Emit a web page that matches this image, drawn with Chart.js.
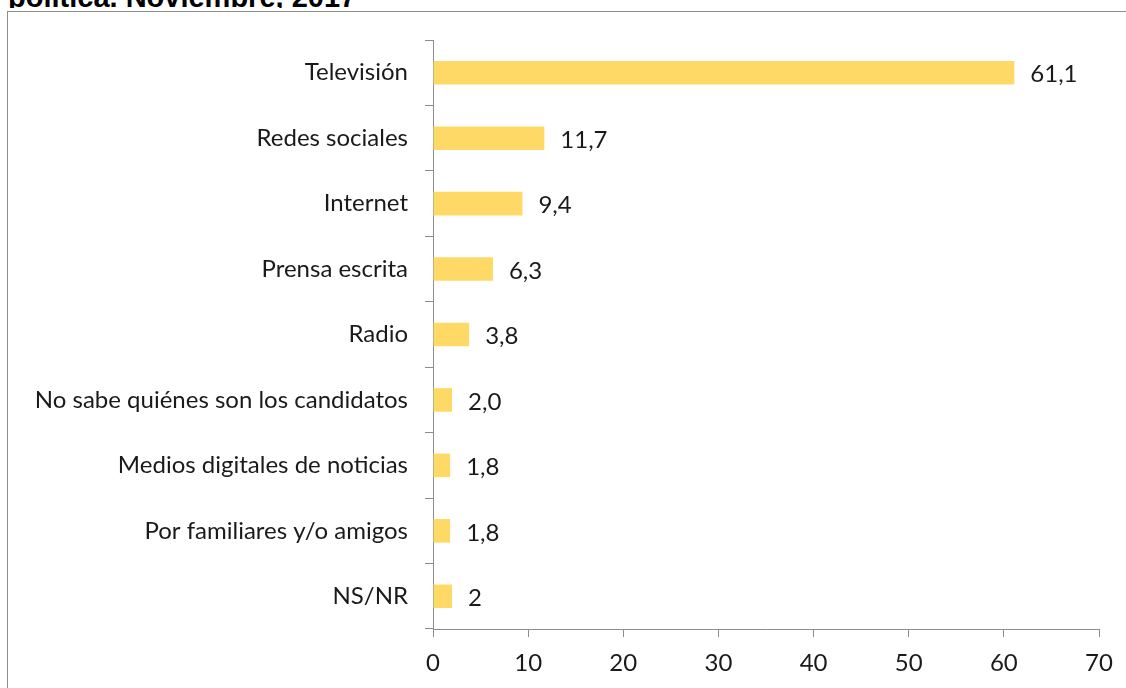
<!DOCTYPE html>
<html>
<head>
<meta charset="utf-8">
<script src="https://cdn.jsdelivr.net/npm/chart.js@4"></script>
<style>
    body { margin: 0; background: #fff; width: 1126px; height: 688px; overflow: hidden; position: relative; }
    #titleClip { position: absolute; left: 0; top: 0; width: 1126px; height: 8px; overflow: hidden; }
    #title { position: absolute; left: 8px; top: -17px; font: bold 29px/1 "Liberation Sans", Arial, sans-serif; color: #000; white-space: nowrap; }
    #frame { position: absolute; left: 7px; top: 11px; width: 1200px; height: 700px; border: 1px solid #8c8c8c; background: #fff; }
    #wrap { position: absolute; left: 0; top: 0; width: 1126px; height: 688px; }
</style>
</head>
<body>
<div id="titleClip"><div id="title">política. Noviembre, 2017</div></div>
<div id="frame"></div>
<div id="wrap"><canvas id="chart" width="1126" height="688"></canvas></div>
<script>
// ===================== DATA ===================== //
const categories = [
    "Televisión",
    "Redes sociales",
    "Internet",
    "Prensa escrita",
    "Radio",
    "No sabe quiénes son los candidatos",
    "Medios digitales de noticias",
    "Por familiares y/o amigos",
    "NS/NR"
];
const values = [61.1, 11.7, 9.4, 6.3, 3.8, 2.0, 1.8, 1.8, 2];
const valueLabels = ["61,1", "11,7", "9,4", "6,3", "3,8", "2,0", "1,8", "1,8", "2"];
const xTicks = [0, 10, 20, 30, 40, 50, 60, 70];

const fontFamily = 'Lato, "Open Sans", sans-serif';
const fontSize = 24;
const axisColor = "#8c8c8c";

// draw value labels next to each bar
const valueLabelPlugin = {
    id: "valueLabels",
    afterDatasetsDraw(chart) {
        const ctx = chart.ctx;
        const meta = chart.getDatasetMeta(0);
        ctx.save();
        ctx.font = fontSize + "px " + fontFamily;
        ctx.fillStyle = "#1a1a1a";
        ctx.textAlign = "left";
        ctx.textBaseline = "middle";
        meta.data.forEach((bar, i) => {
            ctx.fillText(valueLabels[i], bar.x + 16, bar.y + 2);
        });
        ctx.restore();
    }
};

new Chart(document.getElementById("chart"), {
    type: "bar",
    data: {
        labels: categories,
        datasets: [{
            data: values,
            backgroundColor: "#ffd966",
            barPercentage: 0.36,
            categoryPercentage: 1
        }]
    },
    options: {
        indexAxis: "y",
        responsive: false,
        animation: false,
        layout: { padding: { left: 0, right: 27, top: 40, bottom: 0 } },
        plugins: {
            legend: { display: false },
            tooltip: { enabled: false }
        },
        scales: {
            y: {
                afterFit(scale) { scale.width = 433; },
                grid: {
                    offset: true,
                    drawOnChartArea: false,
                    drawTicks: true,
                    tickLength: 8,
                    color: axisColor
                },
                border: { color: axisColor, width: 1 },
                ticks: {
                    padding: 17,
                    color: "#1a1a1a",
                    font: { family: fontFamily, size: fontSize }
                }
            },
            x: {
                min: 0,
                max: 70,
                afterFit(scale) { scale.height = 59; },
                afterBuildTicks(scale) { scale.ticks = xTicks.map(v => ({ value: v })); },
                grid: {
                    drawOnChartArea: false,
                    drawTicks: true,
                    tickLength: 8,
                    color: axisColor
                },
                border: { color: axisColor, width: 1 },
                ticks: {
                    padding: 12,
                    color: "#1a1a1a",
                    font: { family: fontFamily, size: fontSize }
                }
            }
        }
    },
    plugins: [valueLabelPlugin]
});
</script>
</body>
</html>
